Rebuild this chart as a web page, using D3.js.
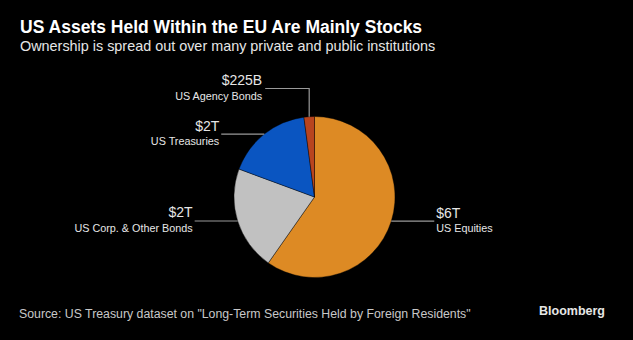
<!DOCTYPE html>
<html>
    <head>
        <title>US Assets Held Within the EU</title>
        <meta charset="UTF-8">
        <style>
            body { margin: 0; background: #000; }
            svg { display: block; background: #000; font-family: "Liberation Sans", Arial, sans-serif; }
            .title { font-size: 17.5px; font-weight: bold; fill: #fff; }
            .subtitle { font-size: 14.4px; fill: #e6e6e6; }
            .source { font-size: 12.3px; fill: #c8c8c8; }
            .brand { font-size: 12.5px; font-weight: bold; fill: #e6e6e6; }
            .val { font-size: 14px; fill: #e6e6e6; }
            .lab { font-size: 10.8px; fill: #e6e6e6; }
            .leader { stroke: #9a9a9a; stroke-width: 1.2; fill: none; }
        </style>
    </head>
    <body>
    <svg width="633" height="340"></svg>
    <script src="https://d3js.org/d3.v7.min.js"></script>
    <script>

        // values in trillions of USD, clockwise from 12 o'clock
        var categories = ["US Equities", "US Corp. & Other Bonds", "US Treasuries", "US Agency Bonds"];
        var values = [6.4, 2.24, 1.85, 0.225];
        var valueLabels = ["$6T", "$2T", "$2T", "$225B"];
        var colors = ["#dd8a24", "#c1c1c1", "#0a55c1", "#b8441f"];

        var svg = d3.select("svg"),
                cx = 314.5,
                cy = 197,
                radius = 80.5,
                g = svg.append("g").attr("transform", "translate(" + cx + "," + cy + ")");

        svg.append("text").attr("class", "title").attr("x", 20).attr("y", 33)
                .text("US Assets Held Within the EU Are Mainly Stocks");
        svg.append("text").attr("class", "subtitle").attr("x", 20).attr("y", 51)
                .text("Ownership is spread out over many private and public institutions");
        svg.append("text").attr("class", "source").attr("x", 19).attr("y", 318)
                .text("Source: US Treasury dataset on \"Long-Term Securities Held by Foreign Residents\"");
        svg.append("text").attr("class", "brand").attr("x", 605).attr("y", 315)
                .attr("text-anchor", "end").text("Bloomberg");

        var data = categories.map(function (c, i) {
            return {name: c, value: values[i], label: valueLabels[i], color: colors[i]};
        });

        var pie = d3.pie()
                .sort(null)
                .value(function (d) {
                    return d.value;
                });

        var path = d3.arc()
                .outerRadius(radius)
                .innerRadius(0);

        var arcs = pie(data);

        g.selectAll(".slice")
                .data(arcs)
                .enter().append("path")
                .attr("class", "slice")
                .attr("d", path)
                .attr("fill", function (d) {
                    return d.data.color;
                })
                .attr("stroke", "#000")
                .attr("stroke-width", 0.4);

        // leader lines start on the rim at each slice's mid angle
        var lineLen = 43;
        arcs.forEach(function (d) {
            var a = (d.startAngle + d.endAngle) / 2,
                    x0 = Math.sin(a) * radius,
                    y0 = -Math.cos(a) * radius,
                    pts, tx, ty, anchor;

            if (d.endAngle - d.startAngle < 0.2) {
                // small slice: elbow up, then left
                var yTop = -radius - 28;
                pts = [[x0, y0], [x0, yTop], [x0 - 44, yTop]];
                tx = x0 - 47;
                ty = yTop;
                anchor = "end";
            } else if (x0 > 0) {
                pts = [[x0, y0], [x0 + lineLen, y0]];
                tx = x0 + lineLen + 2;
                ty = y0;
                anchor = "start";
            } else {
                pts = [[x0, y0], [x0 - lineLen, y0]];
                tx = x0 - lineLen - 2;
                ty = y0;
                anchor = "end";
            }

            g.append("path").attr("class", "leader").attr("d", d3.line()(pts));
            g.append("text").attr("class", "val").attr("x", tx).attr("y", ty - 3.5)
                    .attr("text-anchor", anchor).text(d.data.label);
            g.append("text").attr("class", "lab").attr("x", tx).attr("y", ty + 11)
                    .attr("text-anchor", anchor).text(d.data.name);
        });

    </script>
    </body>
</html>
